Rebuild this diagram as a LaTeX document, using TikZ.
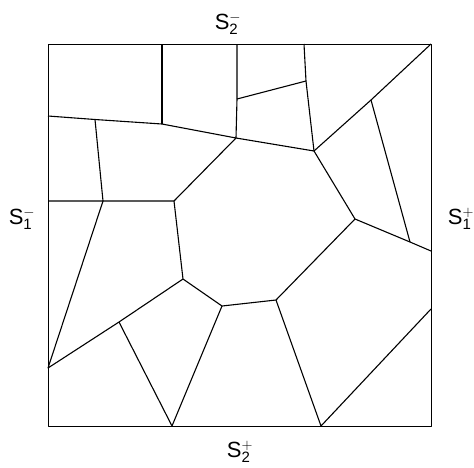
\documentclass[tikz,border=0pt]{standalone}
\usepackage{fontspec}
\setmainfont{Liberation Sans}
\usepackage{tikz}
\usetikzlibrary{calc}

\newcommand{\slab}[2]{S$_{\mbox{\fontsize{15}{15}\selectfont #1}}^{\mbox{\fontsize{15}{15}\selectfont$#2$}}$}

\begin{document}
\begin{tikzpicture}[x=1pt,y=-1pt,line join=round]
			\useasboundingbox (0,0) rectangle (474,467);
			\tikzset{cell/.style={draw,black,line width=1.1pt},
				side/.style={inner sep=0pt,font=\fontsize{22}{26}\selectfont}}
			
			\draw[cell,line width=1pt] (48,44) rectangle (431,426);
			
			\coordinate (a1) at (162,44);
			\coordinate (a2) at (237,44);
			\coordinate (a3) at (304,44);
			\coordinate (c) at (431,44);
			\coordinate (b1) at (48,116);
			\coordinate (b2) at (48,201);
			\coordinate (b3) at (48,368);
			\coordinate (d1) at (172,426);
			\coordinate (d2) at (321,426);
			\coordinate (e1) at (431,251);
			\coordinate (e2) at (431,309);
			
			\coordinate (v1) at (162,124);
			\coordinate (v2) at (237,99);
			\coordinate (v3) at (236,138);
			\coordinate (v4) at (306,81);
			\coordinate (v5) at (314,151);
			\coordinate (v6) at (95,119.5);
			\coordinate (v7) at (103,201);
			\coordinate (v8) at (174,201);
			\coordinate (v9) at (183,279);
			\coordinate (v10) at (222,306);
			\coordinate (v11) at (119,322);
			\coordinate (v12) at (276,300);
			\coordinate (v13) at (355,219);
			\coordinate (v14) at (410,242);
			\coordinate (v15) at (371,100);
			
			\draw[cell] (a1) -- (v1);
			\draw[cell] (a2) -- (v2) -- (v3);
			\draw[cell] (a3) -- (v4) -- (v5);
			\draw[cell] (v2) -- (v4);
			\draw[cell] (b1) -- (v6) -- (v1) -- (v3) -- (v5);
			\draw[cell] (v6) -- (v7);
			\draw[cell] (b2) -- (v7) -- (v8) -- (v3);
			\draw[cell] (v8) -- (v9) -- (v10) -- (v12) -- (v13) -- (v5);
			\draw[cell] (v7) -- (b3) -- (v11) -- (v9);
			\draw[cell] (v11) -- (d1) -- (v10);
			\draw[cell] (v12) -- (d2) -- (e2);
			\draw[cell] (v13) -- (v14) -- (e1);
			\draw[cell] (v14) -- (v15);
			\draw[cell] (v5) -- (v15) -- (c);
			
			\node[side] (t1) at (228,24) {\slab{2}{-}};
			\node[side] (t2) at (22,219) {\slab{1}{-}};
			\node[side] (t3) at (461,219) {\slab{1}{+}};
			\node[side] (t4) at (240,452) {\slab{2}{+}};
		\end{tikzpicture}
\end{document}
